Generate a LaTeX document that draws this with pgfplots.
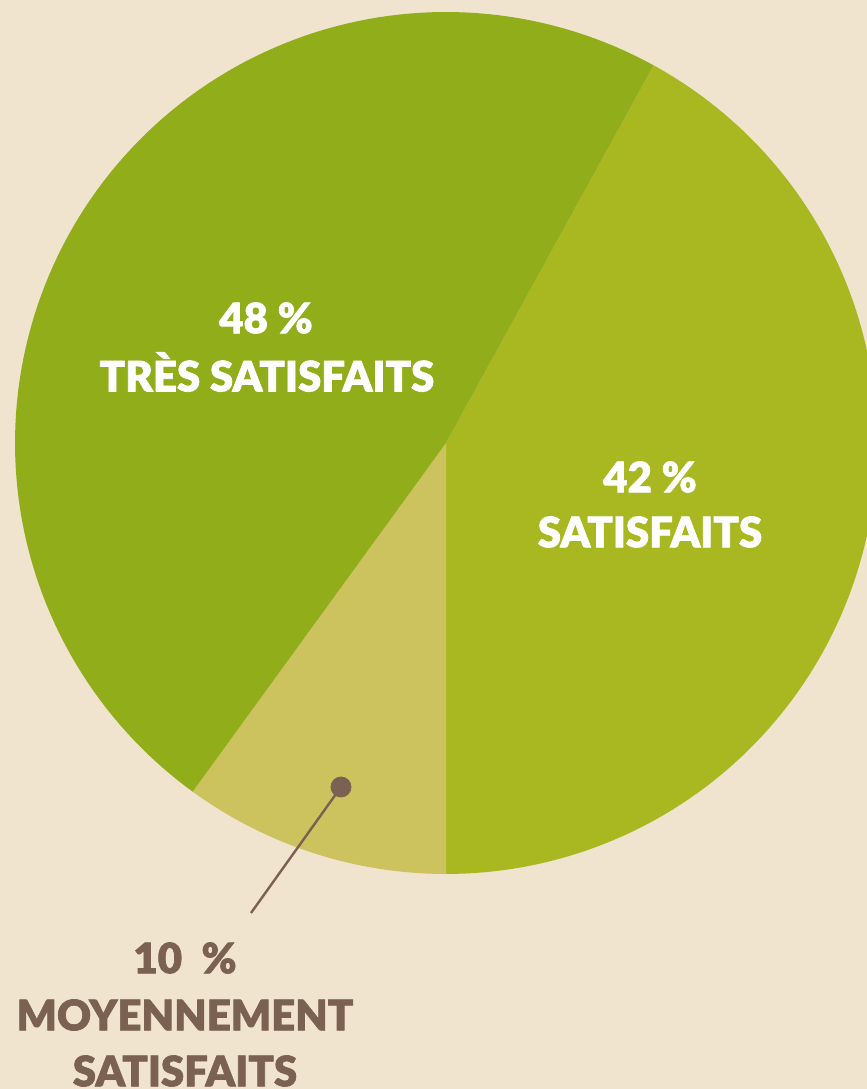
\documentclass[border=0pt]{standalone}
\usepackage{pgfplots}
\pgfplotsset{compat=1.18}
\usepackage{fontspec}
\setmainfont{Lato}[BoldFont={Lato Black}, BoldFeatures={FakeBold=1.6}]
\definecolor{bg}{HTML}{F0E4CE}
\definecolor{tres}{HTML}{92AD1A}
\definecolor{sat}{HTML}{A9B820}
\definecolor{moy}{HTML}{CCC35E}
\definecolor{brun}{HTML}{7B6152}
% data (percent)
\def\pTres{48}
\def\pSat{42}
\def\pMoy{10}
\pgfmathsetmacro{\aZero}{61.2}
\pgfmathsetmacro{\aOne}{\aZero-3.6*\pSat}
\pgfmathsetmacro{\aTwo}{\aOne-3.6*\pMoy}
\pgfmathsetmacro{\aThree}{\aTwo-3.6*\pTres}
\begin{document}
\begin{tikzpicture}
\begin{axis}[
  scale only axis, width=433.5pt, height=544.5pt,
  xmin=0, xmax=867, ymin=0, ymax=1089,
  hide axis, clip=true,
]
\addplot[fill=bg, draw=none] coordinates {(0,0) (867,0) (867,1089) (0,1089)} -- cycle;
\addplot[fill=sat, draw=none, samples=120, domain=\aOne:\aZero] ({446+431*cos(x)},{646+431*sin(x)}) -- (axis cs:446,646) -- cycle;
\addplot[fill=moy, draw=none, samples=40, domain=\aTwo:\aOne] ({446+431*cos(x)},{646+431*sin(x)}) -- (axis cs:446,646) -- cycle;
\addplot[fill=tres, draw=none, samples=120, domain=\aThree:\aTwo] ({446+431*cos(x)},{646+431*sin(x)}) -- (axis cs:446,646) -- cycle;
\addplot[brun, line width=1.2pt, mark=none] coordinates {(251,176) (341,302)};
\addplot[brun, only marks, mark=*, mark size=5pt, mark options={fill=brun, draw=brun}] coordinates {(341,302)};
\begin{scope}[every node/.style={font=\fontsize{21}{25}\selectfont\bfseries, align=center}]
\node[white] at (axis cs:266,771) {48 \%};
\node[white] at (axis cs:267,717) {TRÈS SATISFAITS};
\node[white] at (axis cs:650,612) {42 \%};
\node[white] at (axis cs:650,557) {SATISFAITS};
\node[brun] at (axis cs:185,131) {10~~\%};
\node[brun] at (axis cs:185,74) {MOYENNEMENT};
\node[brun] at (axis cs:185,18) {SATISFAITS};
\end{scope}
\end{axis}
\end{tikzpicture}
\end{document}
